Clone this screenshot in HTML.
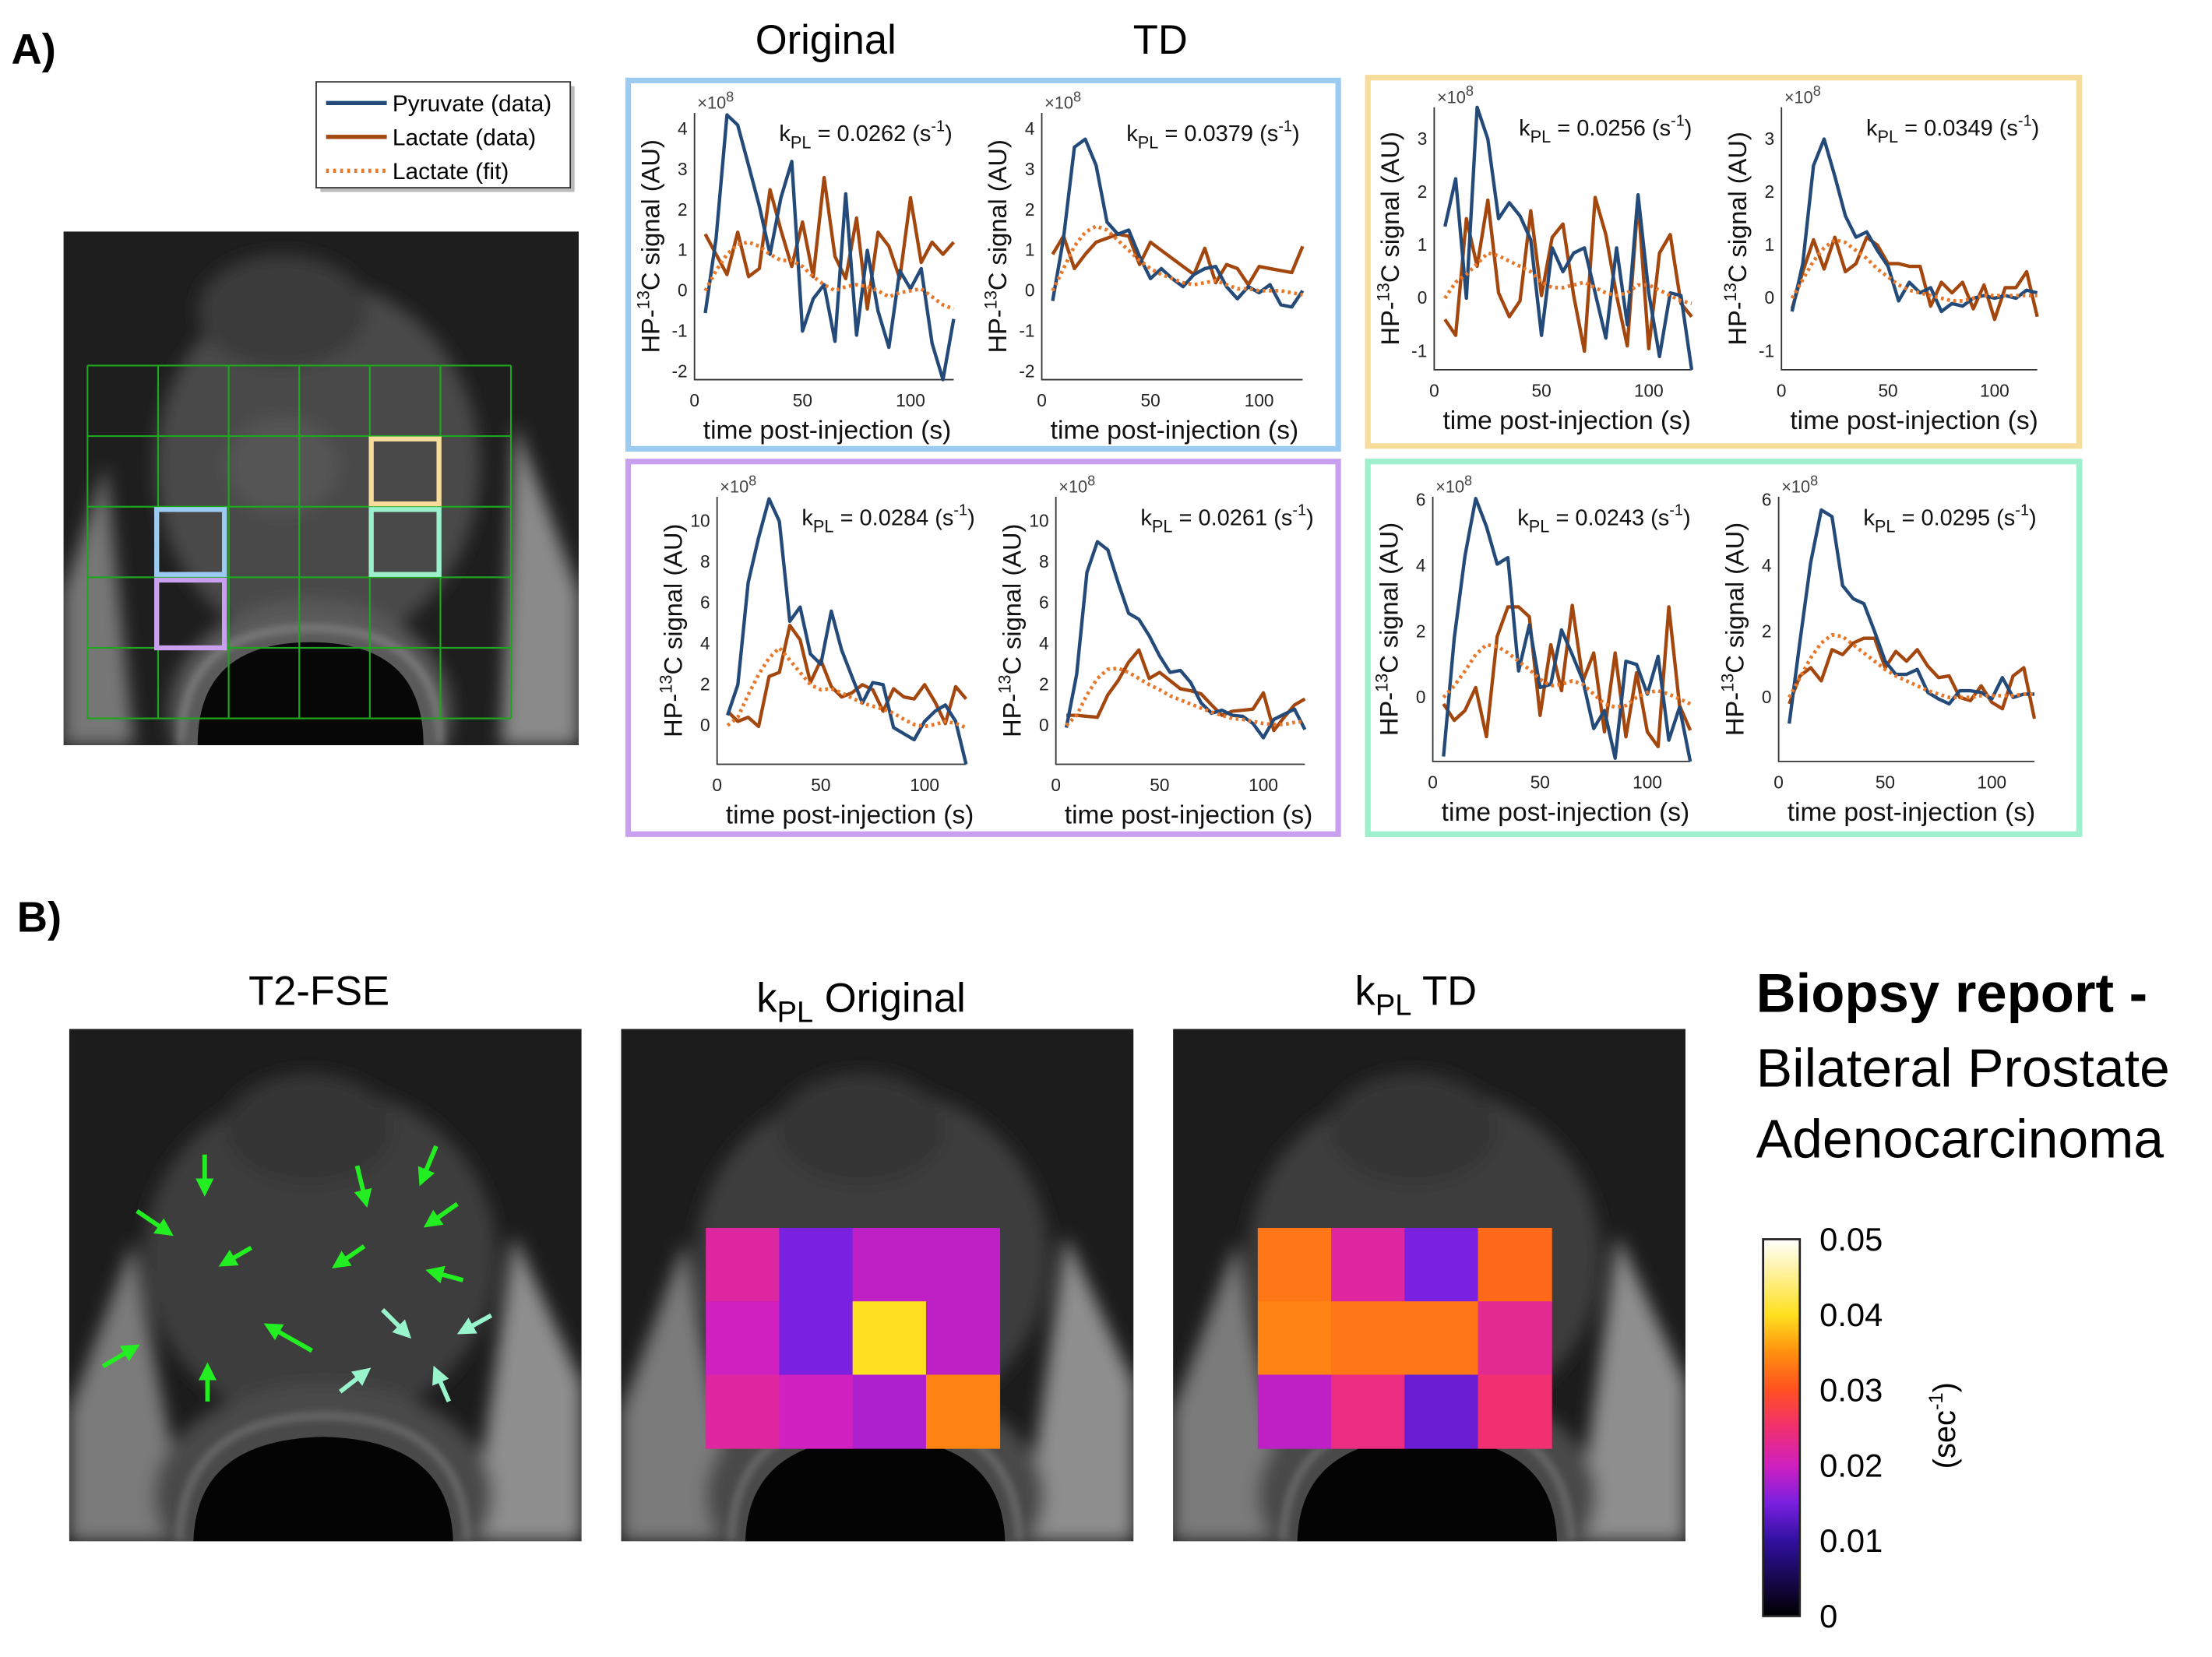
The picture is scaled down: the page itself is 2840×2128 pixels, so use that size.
<!DOCTYPE html>
<html><head><meta charset="utf-8"><title>HP-13C kinetics figure</title>
<style>
html,body{margin:0;padding:0;background:#fff;}
svg{display:block;font-family:"Liberation Sans",sans-serif;}
</style></head>
<body>
<svg id="fig" width="2840" height="2128" viewBox="0 0 1567 1174" preserveAspectRatio="none" xmlns="http://www.w3.org/2000/svg">
<defs>
  <filter id="blur6" x="-20%" y="-20%" width="140%" height="140%"><feGaussianBlur stdDeviation="6"/></filter>
  <filter id="blur3" x="-20%" y="-20%" width="140%" height="140%"><feGaussianBlur stdDeviation="3"/></filter>
  <linearGradient id="cbar" x1="0" y1="1" x2="0" y2="0">
    <stop offset="0" stop-color="#000000"/><stop offset="0.2" stop-color="#3010a0"/>
    <stop offset="0.3" stop-color="#7a20e0"/><stop offset="0.4" stop-color="#d020c0"/>
    <stop offset="0.5" stop-color="#f03070"/><stop offset="0.6" stop-color="#ff5020"/>
    <stop offset="0.7" stop-color="#ff9010"/><stop offset="0.8" stop-color="#ffe020"/>
    <stop offset="1" stop-color="#ffffff"/>
  </linearGradient>
  <clipPath id="clipA"><rect x="45" y="164" width="365" height="364"/></clipPath>
  <clipPath id="clipB0"><rect x="49" y="729" width="363" height="363"/></clipPath>
  <clipPath id="clipB1"><rect x="440" y="729" width="363" height="363"/></clipPath>
  <clipPath id="clipB2"><rect x="831" y="729" width="363" height="363"/></clipPath>
  <marker id="ahG" markerWidth="4" markerHeight="4" refX="2.5" refY="2" orient="auto"><path d="M0,0 L4,2 L0,4 z" fill="#22ee22"/></marker>
  <marker id="ahT" markerWidth="4" markerHeight="4" refX="2.5" refY="2" orient="auto"><path d="M0,0 L4,2 L0,4 z" fill="#99f5cc"/></marker>
</defs>

<text x="8" y="45" font-size="30" font-weight="bold">A)</text>
<text x="12" y="660" font-size="30" font-weight="bold">B)</text>

<g>
  <rect x="227" y="61" width="180" height="75" fill="#777" opacity="0.5"/>
  <rect x="224" y="58" width="180" height="75" fill="#fff" stroke="#333" stroke-width="1"/>
  <line x1="231" y1="73" x2="274" y2="73" stroke="#234a78" stroke-width="3"/>
  <text x="278" y="79" font-size="16.5">Pyruvate (data)</text>
  <line x1="231" y1="97" x2="274" y2="97" stroke="#a3470e" stroke-width="3"/>
  <text x="278" y="103" font-size="16.5">Lactate (data)</text>
  <line x1="231" y1="121" x2="274" y2="121" stroke="#e8772a" stroke-width="3" stroke-dasharray="2,3"/>
  <text x="278" y="127" font-size="16.5">Lactate (fit)</text>
</g>

<g>
  <g clip-path="url(#clipA)">
    <rect x="45" y="164" width="365" height="364" fill="#1e1e1e"/>
    <g filter="url(#blur6)">
      <ellipse cx="225" cy="330" rx="115" ry="130" fill="#4a4a4a"/>
      <ellipse cx="200" cy="220" rx="60" ry="40" fill="#3a3a3a"/>
      <ellipse cx="200" cy="330" rx="40" ry="35" fill="#555"/>
      <polygon points="45,420 75,330 95,528 45,528" fill="#777"/>
      <polygon points="410,420 365,300 355,528 410,528" fill="#8a8a8a"/>
      <ellipse cx="220" cy="505" rx="100" ry="80" fill="#5a5a5a"/>
    </g>
    <path d="M140,528 Q140,455 220,455 Q300,455 300,528 Z" fill="#070707"/>
    <path d="M128,528 Q128,445 220,445 Q312,445 312,528" fill="none" stroke="#b0b0b0" stroke-width="3" filter="url(#blur3)" opacity="0.7"/>
  </g>
  <g id="gridlines" stroke="#1fa51f" stroke-width="1.2"></g>
  <rect x="263" y="311" width="48" height="46" fill="none" stroke="#f8dc9c" stroke-width="3.5"/>
  <rect x="263" y="361" width="48" height="46" fill="none" stroke="#9cf0cc" stroke-width="3.5"/>
  <rect x="111" y="361" width="48" height="46" fill="none" stroke="#9ccbf2" stroke-width="3.5"/>
  <rect x="111" y="411" width="48" height="48" fill="none" stroke="#c9a0f0" stroke-width="3.5"/>
</g>

<text x="585" y="38" font-size="29" text-anchor="middle">Original</text>
<text x="822" y="38" font-size="29" text-anchor="middle">TD</text>

<rect x="445" y="57" width="503" height="261" fill="none" stroke="#9ccbf2" stroke-width="4"/>
<rect x="969" y="55" width="504" height="261" fill="none" stroke="#f8dc9c" stroke-width="4"/>
<rect x="445" y="327" width="503" height="264" fill="none" stroke="#c9a0f0" stroke-width="4"/>
<rect x="969" y="327" width="504" height="264" fill="none" stroke="#9cf0cc" stroke-width="4"/>

<g id="charts"></g>

<text x="226" y="712" font-size="29" text-anchor="middle">T2-FSE</text>
<text x="610" y="717" font-size="29" text-anchor="middle">k<tspan font-size="21" dy="7">PL</tspan><tspan dy="-7"> Original</tspan></text>
<text x="1003" y="712" font-size="29" text-anchor="middle">k<tspan font-size="21" dy="7">PL</tspan><tspan dy="-7"> TD</tspan></text>

<g id="mriB"></g>
<g id="arrows"></g>
<g id="heatmaps"></g>

<g>
  <rect x="1249" y="878" width="26" height="267" fill="url(#cbar)" stroke="#222" stroke-width="1.5"/>
  <g id="cbticks" font-size="23"></g>
  <text transform="translate(1385,1010) rotate(-90)" font-size="22" text-anchor="middle">(sec<tspan font-size="14" dy="-9">-1</tspan><tspan dy="9">)</tspan></text>
</g>

<text x="1244" y="717" font-size="39" font-weight="bold">Biopsy report -</text>
<text x="1244" y="770" font-size="38.5">Bilateral Prostate</text>
<text x="1244" y="820" font-size="38.5">Adenocarcinoma</text>
</svg>

<script>
const NS = "http://www.w3.org/2000/svg";
// ---- chart data ----
const times = [5,10,15,20,25,30,35,40,45,50,55,60,65,70,75,80,85,90,95,100,105,110,115,120];
const xTicks = [0,50,100];
const kplLabels = ["0.0262","0.0379","0.0256","0.0349","0.0284","0.0261","0.0243","0.0295"];
const yTicksBlue = [-2,-1,0,1,2,3,4];
const yTicksYellow = [-1,0,1,2,3];
const yTicksPurple = [0,2,4,6,8,10];
const yTicksTeal = [0,2,4,6];

const pyrBlueOrig = [-0.55,1.3,4.35,4.1,3.1,2.1,0.9,2.3,3.2,-1.0,-0.2,0.15,-1.25,2.4,-1.1,1.0,-0.5,-1.4,0.5,0.05,0.55,-1.3,-2.3,-0.7];
const lacBlueOrig = [1.4,0.9,0.4,1.45,0.35,0.55,2.5,1.5,0.6,1.7,0.35,2.8,0.85,0.3,1.8,-0.45,1.45,1.1,0.3,2.3,0.7,1.2,0.9,1.2];
const fitBlueOrig = [0,0.5,0.9,1.15,1.2,1.1,0.9,0.75,0.75,0.6,0.35,0.15,0,0.1,0.15,0.1,0,-0.15,-0.05,0,0.05,-0.15,-0.35,-0.45];
const pyrBlueTD = [-0.25,1.3,3.55,3.75,3.1,1.7,1.4,1.5,0.85,0.3,0.55,0.3,0.1,0.4,0.55,0.6,0.1,-0.2,0.1,-0.05,0.15,-0.35,-0.4,0];
const lacBlueTD = [0.9,1.35,0.55,0.9,1.2,1.3,1.4,1.35,0.65,1.2,1.0,0.8,0.6,0.4,1.05,0.2,0.65,0.55,0.15,0.6,0.55,0.5,0.45,1.1];
const fitBlueTD = [0,0.55,1.1,1.45,1.6,1.5,1.25,1.0,0.75,0.55,0.4,0.3,0.2,0.15,0.2,0.25,0.15,0.05,0.05,0,0,0,-0.05,-0.1];
const pyrYellowOrig = [1.35,2.25,0.0,3.6,3.0,1.5,1.8,1.55,1.1,-0.7,0.95,0.5,0.85,0.95,0.1,-0.75,0.95,-0.5,1.95,0.1,-1.1,0.1,0.05,-1.4];
const lacYellowOrig = [-0.4,-0.7,1.5,0.6,1.85,0.1,-0.35,-0.05,1.65,0.05,1.15,1.4,0.05,-1.0,1.9,1.2,0.05,-0.9,1.85,-0.95,0.85,1.2,-0.1,-0.35];
const fitYellowOrig = [0,0.3,0.45,0.65,0.85,0.8,0.7,0.6,0.5,0.3,0.2,0.2,0.25,0.3,0.2,0.1,0.05,0.1,0.25,0.25,0.15,0.05,-0.05,-0.1];
const pyrYellowTD = [-0.25,0.65,2.5,3.0,2.3,1.55,1.15,1.25,0.9,0.6,-0.05,0.3,0.1,0.2,-0.25,-0.1,-0.15,0.0,0.05,0,0.05,0.0,0.15,0.1];
const lacYellowTD = [-0.2,0.5,1.1,0.55,1.15,0.5,0.65,1.15,1.0,0.65,0.65,0.6,0.6,-0.15,0.3,0.1,0.3,-0.2,0.25,-0.4,0.2,0.2,0.5,-0.35];
const fitYellowTD = [0,0.35,0.7,0.95,1.1,1.05,0.9,0.75,0.55,0.4,0.25,0.15,0.1,0.05,0.0,-0.05,-0.05,0,0.05,0.05,0.05,0.05,0.05,0.05];
const pyrPurpleOrig = [0.5,2.0,7.0,9.2,11.1,10.0,5.1,5.8,3.5,3.0,5.6,3.7,2.4,1.1,2.1,2.0,-0.1,-0.4,-0.7,0.2,0.7,1.0,0.2,-1.9];
const lacPurpleOrig = [0.7,0.2,0.4,-0.05,2.4,2.6,4.9,4.2,2.1,3.2,1.9,1.4,1.6,2.0,1.75,0.7,1.8,1.4,1.3,2.0,1.15,0.1,1.9,1.3];
const fitPurpleOrig = [0,0.4,1.5,2.5,3.3,3.8,3.2,2.6,2.0,1.75,1.8,1.6,1.35,1.1,0.95,0.8,0.6,0.3,0.05,-0.05,0.05,0.2,0.1,-0.1];
const pyrPurpleTD = [-0.1,2.5,7.5,9.0,8.6,7.0,5.5,5.2,4.4,3.4,2.6,2.7,2.1,1.1,0.6,0.75,0.5,0.45,0.1,-0.6,0.3,0.55,0.8,-0.2];
const lacPurpleTD = [0.5,0.5,0.45,0.4,1.5,2.2,3.1,3.7,2.3,2.6,2.2,1.8,1.7,1.55,1.0,0.5,0.7,0.75,0.8,1.6,-0.25,0.4,1.0,1.3];
const fitPurpleTD = [0,0.5,1.5,2.3,2.75,2.8,2.6,2.3,2.0,1.75,1.45,1.25,1.05,0.85,0.65,0.5,0.35,0.3,0.2,0.1,0.05,0.05,0.15,0.2];
const pyrTealOrig = [-1.8,1.8,4.3,6.05,5.2,4.05,4.25,0.8,2.2,0.3,0.4,2.05,1.3,0.5,-0.95,-0.4,-1.85,1.1,1.0,0.1,1.25,-1.3,-0.3,-1.95];
const lacTealOrig = [-0.2,-0.7,-0.4,0.3,-1.2,1.85,2.75,2.75,2.45,-0.55,1.6,0.2,2.8,0.5,1.35,-1.05,1.35,-1.2,0.75,-1.05,-1.5,2.75,-0.25,-1.0];
const fitTealOrig = [0,0.35,0.8,1.3,1.6,1.55,1.35,1.1,0.85,0.55,0.35,0.4,0.5,0.4,0.1,-0.2,-0.3,-0.25,0,0.15,0.2,0.1,-0.05,-0.2];
const pyrTealTD = [-0.8,1.7,4.1,5.7,5.5,3.4,3.0,2.85,2.0,1.1,0.7,0.7,0.85,0.15,-0.05,-0.2,0.2,0.2,0.15,-0.05,0.6,0.0,0.1,0.1];
const lacTealTD = [-0.2,0.65,0.9,0.5,1.45,1.3,1.65,1.8,1.8,0.9,1.4,1.1,1.45,0.95,0.6,0.65,0.0,-0.1,0.35,-0.15,-0.35,0.65,0.9,-0.65];
const fitTealTD = [0,0.6,1.2,1.65,1.9,1.85,1.6,1.35,1.1,0.85,0.65,0.5,0.35,0.2,0.1,0.0,0.0,0.0,0.05,0.05,0.05,0.05,0.1,0.1];

const seriesSets = [
  [pyrBlueOrig,lacBlueOrig,fitBlueOrig],[pyrBlueTD,lacBlueTD,fitBlueTD],
  [pyrYellowOrig,lacYellowOrig,fitYellowOrig],[pyrYellowTD,lacYellowTD,fitYellowTD],
  [pyrPurpleOrig,lacPurpleOrig,fitPurpleOrig],[pyrPurpleTD,lacPurpleTD,fitPurpleTD],
  [pyrTealOrig,lacTealOrig,fitTealOrig],[pyrTealTD,lacTealTD,fitTealTD]];
const tickSets = [yTicksBlue,yTicksBlue,yTicksYellow,yTicksYellow,yTicksPurple,yTicksPurple,yTicksTeal,yTicksTeal];
const yLimits = [[-2.2,4.4],[-2.2,4.4],[-1.35,3.6],[-1.35,3.6],[-1.9,11.2],[-1.9,11.2],[-1.95,6.1],[-1.95,6.1]];
const chartNames = ["blue-original","blue-td","yellow-original","yellow-td","purple-original","purple-td","teal-original","teal-td"];

// heatmap values (kPL, s^-1), rows top->bottom
const heatOrig = [[0.022,0.015,0.019,0.019],[0.020,0.015,0.040,0.019],[0.022,0.020,0.018,0.034]];
const heatTD = [[0.033,0.022,0.015,0.032],[0.034,0.033,0.033,0.023],[0.019,0.024,0.014,0.025]];
const cbTicks = [0,0.01,0.02,0.03,0.04,0.05];

// ---- layout (pixel geometry) ----
const layout = [
  {x0:492,xs:1.53,top:80,bot:269},{x0:738,xs:1.54,top:80,bot:269},
  {x0:1016,xs:1.52,top:76,bot:262},{x0:1262,xs:1.51,top:76,bot:262},
  {x0:508,xs:1.47,top:352,bot:541.5},{x0:748,xs:1.47,top:352,bot:541.5},
  {x0:1015,xs:1.52,top:352,bot:539.5},{x0:1260,xs:1.51,top:352,bot:539.5}];

function mk(tag, attrs, parent){const e=document.createElementNS(NS,tag);for(const k in attrs)e.setAttribute(k,attrs[k]);parent.appendChild(e);return e;}

const chartsG = document.getElementById('charts');
layout.forEach((L,i)=>{
  const [ymin,ymax]=yLimits[i];
  const g=mk('g',{},chartsG);
  
  
  const xp=t=>L.x0+t*L.xs;
  const yp=v=>L.bot-(v-ymin)/(ymax-ymin)*(L.bot-L.top);
  const right=xp(120);
  const ax=mk('path',{d:`M${L.x0},${L.top}V${L.bot}H${right}`,fill:'none',stroke:'#333','stroke-width':1},g);
  
  
  tickSets[i].forEach(v=>{
    const t=mk('text',{x:L.x0-5,y:yp(v)+4,'font-size':12.5,'text-anchor':'end',fill:'#222'},g);
    t.textContent=v;
    
    
  });
  xTicks.forEach(v=>{
    const t=mk('text',{x:xp(v),y:L.bot+19,'font-size':12.5,'text-anchor':'middle',fill:'#222'},g);
    t.textContent=v;
    
    
  });
  const ex=mk('text',{x:L.x0+2,y:L.top-3,'font-size':12,fill:'#444'},g);
  ex.innerHTML='×10<tspan font-size="10" dy="-5">8</tspan>';
  
  
  const kp=mk('text',{x:L.x0+60,y:L.top+20,'font-size':16,fill:'#111'},g);
  kp.innerHTML='k<tspan font-size="12" dy="5">PL</tspan><tspan dy="-5"> = '+kplLabels[i]+' (s</tspan><tspan font-size="11" dy="-7">-1</tspan><tspan dy="7">)</tspan>';
  
  
  const xl=mk('text',{x:L.x0+94,y:L.bot+42,'font-size':18.5,'text-anchor':'middle',fill:'#111'},g);
  xl.textContent='time post-injection (s)';
  
  
  const cy=(L.top+L.bot)/2;
  const yl=mk('text',{transform:`translate(${L.x0-25},${cy}) rotate(-90)`,'font-size':18,'text-anchor':'middle',fill:'#111'},g);
  yl.innerHTML='HP-<tspan font-size="12" dy="-7">13</tspan><tspan dy="7">C signal (AU)</tspan>';
  
  
  const styles=[{stroke:'#234a78',w:2.4,d:''},{stroke:'#a3470e',w:2.4,d:''},{stroke:'#e8772a',w:2.6,d:'2,2.5'}];
  const nm=['pyruvate-line','lactate-line','lactate-fit-line'];
  [1,0,2].forEach(s=>{
    const vals=seriesSets[i][s];
    const pts=times.map((t,k)=>xp(t).toFixed(1)+','+yp(Math.max(ymin,Math.min(ymax,vals[k]))).toFixed(1)).join(' ');
    const pl=mk('polyline',{points:pts,fill:'none',stroke:styles[s].stroke,'stroke-width':styles[s].w,'stroke-linejoin':'round'},g);
    if(styles[s].d)pl.setAttribute('stroke-dasharray',styles[s].d);
    
    
  });
});

const gl=document.getElementById('gridlines');
[62,112,162,212,262,312,362].forEach(x=>mk('line',{x1:x,y1:259,x2:x,y2:509},gl));
[259,309,359,409,459,509].forEach(y=>mk('line',{x1:62,y1:y,x2:362,y2:y},gl));

const mriB=document.getElementById('mriB');
[49,440,831].forEach((x,i)=>{
  const g=mk('g',{'clip-path':`url(#clipB${i})`},mriB);
  
  
  mk('rect',{x:x,y:729,width:363,height:363,fill:'#1c1c1c'},g);
  const b=mk('g',{filter:'url(#blur6)'},g);
  mk('ellipse',{cx:x+178,cy:890,rx:125,ry:120,fill:'#3e3e3e'},b);
  mk('ellipse',{cx:x+170,cy:800,rx:60,ry:40,fill:'#353535'},b);
  mk('polygon',{points:`${x},1000 ${x+45},880 ${x+85},1092 ${x},1092`,fill:'#7a7a7a'},b);
  mk('polygon',{points:`${x+363},980 ${x+315},875 ${x+285},1092 ${x+363},1092`,fill:'#8e8e8e'},b);
  mk('ellipse',{cx:x+180,cy:1060,rx:120,ry:80,fill:'#4a4a4a'},b);
  mk('path',{d:`M${x+88},1092 Q${x+90},1020 ${x+180},1018 Q${x+270},1020 ${x+272},1092 Z`,fill:'#040404'},g);
  mk('path',{d:`M${x+78},1092 Q${x+80},1005 ${x+180},1003 Q${x+280},1005 ${x+282},1092`,fill:'none',stroke:'#aaa','stroke-width':3,opacity:0.6,filter:'url(#blur3)'},g);
});

const arrowsG=document.getElementById('arrows');
const greenArrows=[[145,818,145,843],[97,858,119,873],[253,826,259,851],[309,812,299,836],[324,853,304,867],[178,884,159,895],[258,883,239,896],[328,907,306,901],[221,957,191,940],[147,993,147,970],[73,968,95,955]];
const tealArrows=[[271,928,288,945],[348,932,328,943],[241,986,259,972],[318,993,309,972]];
greenArrows.forEach(a=>{const l=mk('line',{x1:a[0],y1:a[1],x2:a[2],y2:a[3],stroke:'#22ee22','stroke-width':3.2,'marker-end':'url(#ahG)'},arrowsG);
  
  });
tealArrows.forEach(a=>{const l=mk('line',{x1:a[0],y1:a[1],x2:a[2],y2:a[3],stroke:'#99f5cc','stroke-width':3.2,'marker-end':'url(#ahT)'},arrowsG);
  
  });

const cmapStops=[[0,[0,0,0]],[0.2,[48,16,160]],[0.3,[122,32,224]],[0.4,[208,32,192]],[0.5,[240,48,112]],[0.6,[255,80,32]],[0.7,[255,144,16]],[0.8,[255,224,32]],[1,[255,255,255]]];
function cmap(v){const f=Math.max(0,Math.min(1,v/0.05));
  for(let k=1;k<cmapStops.length;k++){if(f<=cmapStops[k][0]){const a=cmapStops[k-1],b=cmapStops[k];const u=(f-a[0])/(b[0]-a[0]);
    return 'rgb('+a[1].map((c,j)=>Math.round(c+(b[1][j]-c)*u)).join(',')+')';}}return '#fff';}
const hmG=document.getElementById('heatmaps');
[[heatOrig,500,'heatmap-original'],[heatTD,891,'heatmap-td']].forEach(([H,x0,name])=>{
  const g=mk('g',{},hmG);
  
  
  const cw=52,ch=52,y0=870;
  H.forEach((row,r)=>row.forEach((v,c)=>{
    const cell=mk('rect',{x:x0+c*cw,y:y0+r*ch,width:cw+0.5,height:ch+0.5,fill:cmap(v)},g);
    
    
  }));
});
const cbt=document.getElementById('cbticks');
cbTicks.forEach(v=>{const y=1145-v/0.05*267;
  const t=mk('text',{x:1289,y:y+8},cbt);
  t.textContent=v===0?'0':v.toFixed(2);
  
  });
</script>
</body></html>
